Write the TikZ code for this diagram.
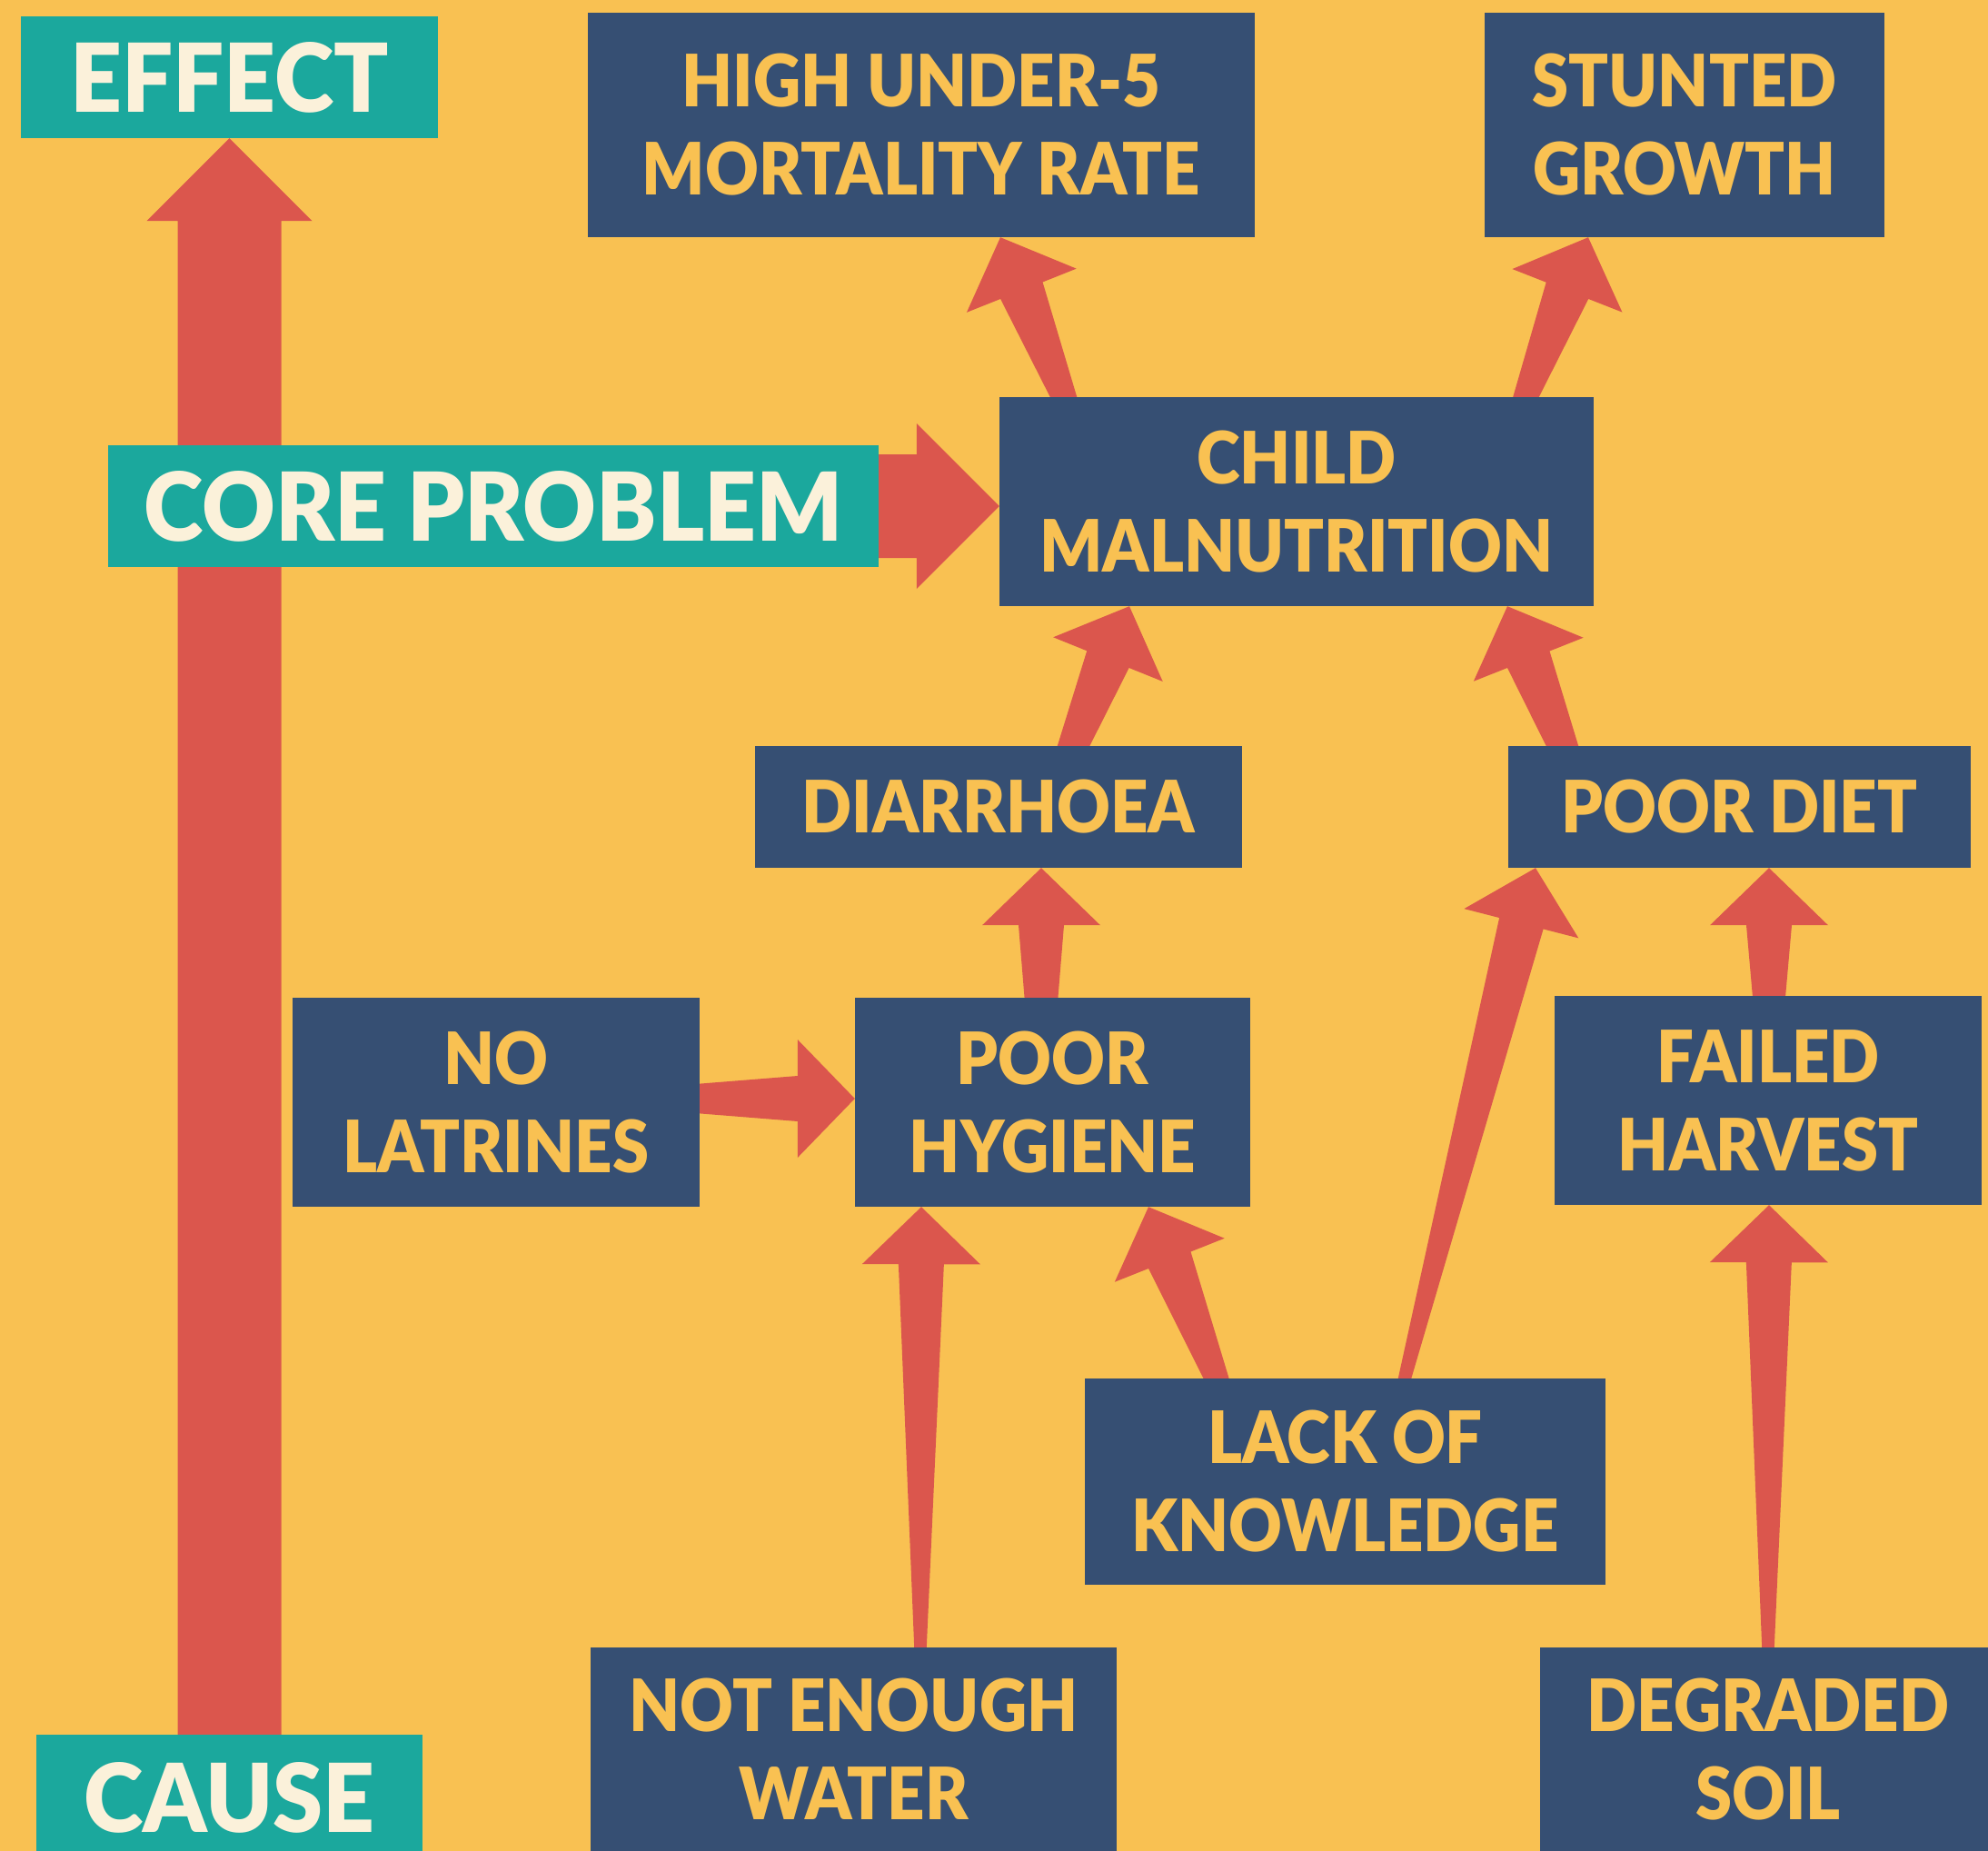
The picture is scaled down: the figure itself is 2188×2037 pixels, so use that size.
\documentclass[tikz,border=0pt]{standalone}
\usepackage{fontspec}
\newfontfamily\lblnavy{Lato Black}[FakeStretch=0.91]
\newfontfamily\lblteal{Lato Black}[FakeStretch=0.95]
\usetikzlibrary{calc}
\definecolor{bgy}{HTML}{F9C152}
\definecolor{tealbox}{HTML}{1BA89D}
\definecolor{navybox}{HTML}{364F73}
\definecolor{arrowred}{HTML}{DB564D}
\definecolor{cream}{HTML}{FBF1DA}
\pgfdeclarelayer{bg}
\pgfdeclarelayer{arr}
\pgfsetlayers{bg,arr,main}
% #1 source edge point, #2 tip, #3 tail half width, #4 shaft half width at head, #5 head half width, #6 head length
\newcommand\tapArrow[6]{%
  \path (#1) coordinate (aE) (#2) coordinate (aP);
  \path ($(aE)!-30pt!(aP)$) coordinate (aT) ($(aP)!#6!(aE)$) coordinate (aB);
  \fill[arrowred] ($(aT)!#3!90:(aP)$) -- ($(aB)!#4!90:(aP)$) -- ($(aB)!#5!90:(aP)$) -- (aP)
     -- ($(aB)!#5!-90:(aP)$) -- ($(aB)!#4!-90:(aP)$) -- ($(aT)!#3!-90:(aP)$) -- cycle;
}
\tikzset{
  cbox/.style={rectangle, fill=navybox, text=bgy, inner sep=0pt, align=center,
    font=\lblnavy\fontsize{79.5}{97}\selectfont},
  tbox/.style={rectangle, fill=tealbox, text=cream, inner sep=0pt, align=center,
    font=\lblteal\fontsize{104.6}{120}\selectfont},
}
\begin{document}
\begin{tikzpicture}[x=1pt,y=-1pt]
\useasboundingbox (0,0) rectangle (2188,2037);
\begin{pgfonlayer}{bg}
  \fill[bgy] (0,0) rectangle (2188,2037);
\end{pgfonlayer}

\node[tbox, minimum width=459pt, minimum height=134pt] (effect) at (252.5,85) {EFFECT};
\node[tbox, minimum width=848pt, minimum height=134pt] (core) at (543,557) {CORE PROBLEM};
\node[tbox, minimum width=425pt, minimum height=138pt] (cause) at (252.5,1978) {CAUSE};

\node[cbox, minimum width=734pt, minimum height=247pt] (high) at (1014,137.5) {HIGH UNDER-5\\MORTALITY RATE};
\node[cbox, minimum width=440pt, minimum height=247pt] (stunt) at (1854,137.5) {STUNTED\\GROWTH};
\node[cbox, minimum width=654pt, minimum height=230pt] (cm) at (1427,552) {CHILD\\MALNUTRITION};
\node[cbox, minimum width=536pt, minimum height=134pt] (dia) at (1099,888) {DIARRHOEA};
\node[cbox, minimum width=509pt, minimum height=134pt] (pd) at (1914.5,888) {POOR DIET};
\node[cbox, minimum width=448pt, minimum height=230pt] (nl) at (546,1213) {NO\\LATRINES};
\node[cbox, minimum width=435pt, minimum height=230pt] (ph) at (1158.5,1213) {POOR\\HYGIENE};
\node[cbox, minimum width=470pt, minimum height=230pt] (fh) at (1946,1211) {FAILED\\HARVEST};
\node[cbox, minimum width=573pt, minimum height=227pt] (lack) at (1480.5,1630.5) {LACK OF\\KNOWLEDGE};
\node[cbox, minimum width=579pt, minimum height=224pt] (new) at (939.5,1925) {NOT ENOUGH\\WATER};
\node[cbox, minimum width=502pt, minimum height=224pt] (ds) at (1946,1925) {DEGRADED\\SOIL};

\begin{pgfonlayer}{arr}
  % big cause -> effect arrow
  \fill[arrowred] ($(cause.north)+(-57,30)$) -- ($(effect.south)+(-57,91)$) -- ($(effect.south)+(-91,91)$)
     -- (effect.south) -- ($(effect.south)+(91,91)$) -- ($(effect.south)+(57,91)$)
     -- ($(cause.north)+(57,30)$) -- cycle;
  % core problem -> child malnutrition
  \coordinate (cp) at (core.east -| cm.west);
  \fill[arrowred] ($(core.east)+(-30,-57)$) -- ($(cp)+(-91,-57)$) -- ($(cp)+(-91,-91)$) -- (cp)
     -- ($(cp)+(-91,91)$) -- ($(cp)+(-91,57)$) -- ($(core.east)+(-30,57)$) -- cycle;
  \tapArrow{$(cm.north)+(-256,0)$}{$(high.south)+(87,0)$}{11pt}{25pt}{65pt}{63pt}
  \tapArrow{$(cm.north)+(252,0)$}{$(stunt.south)+(-106,0)$}{10.5pt}{25pt}{65pt}{63pt}
  \tapArrow{$(dia.north)+(82,0)$}{$(cm.south)+(-184,0)$}{14pt}{25pt}{65pt}{63pt}
  \tapArrow{$(pd.north)+(-194.5,0)$}{$(cm.south)+(232,0)$}{14pt}{25pt}{65pt}{63pt}
  \tapArrow{$(ph.north)+(-12.5,0)$}{$(dia.south)+(47,0)$}{16pt}{25pt}{65pt}{63pt}
  \tapArrow{$(nl.east)+(0,-4)$}{$(ph.west)+(0,-4)$}{14pt}{25pt}{65pt}{63pt}
  \tapArrow{$(new.north)+(73.5,0)$}{$(ph.south)+(-144.5,0)$}{5.5pt}{25pt}{65pt}{63pt}
  \tapArrow{$(lack.north)+(-141.5,0)$}{$(ph.south)+(105.5,0)$}{10.5pt}{25pt}{65pt}{63pt}
  \tapArrow{$(lack.north)+(65.5,0)$}{$(pd.south)+(-224.5,0)$}{6pt}{25pt}{65pt}{63pt}
  \tapArrow{$(fh.north)+(1,0)$}{$(pd.south)+(32.5,0)$}{15.5pt}{25pt}{65pt}{63pt}
  \tapArrow{ds.north}{$(fh.south)+(1,0)$}{5.5pt}{25pt}{65pt}{63pt}
\end{pgfonlayer}
\end{tikzpicture}
\end{document}
